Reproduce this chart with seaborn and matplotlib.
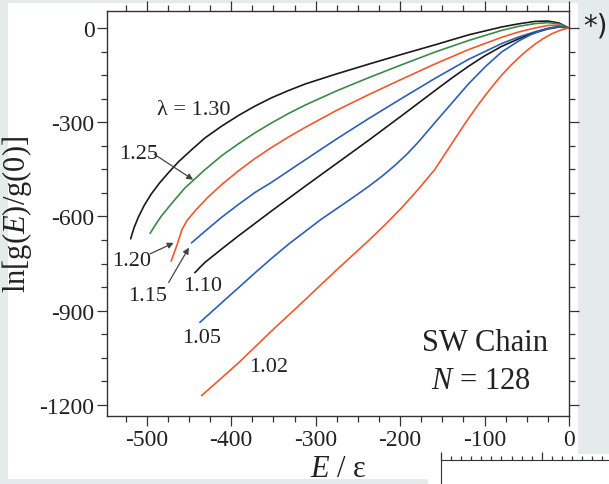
import numpy as np
import pandas as pd
import matplotlib
matplotlib.use("Agg")
import matplotlib.pyplot as plt
from matplotlib.patches import Rectangle
from matplotlib.ticker import MultipleLocator
import seaborn as sns

# ---- data ----
lam_labels = ["1.30", "1.25", "1.20", "1.15", "1.10", "1.05", "1.02"]

E_130 = [-519, -515, -510, -503, -495, -485, -474, -462, -447, -431, -411, -391, -372, -352, -332,
         -312, -275, -237, -198, -159, -119, -80, -60, -40, -25, -12, 0]
g_130 = [-671, -636, -603, -565, -530, -494, -460, -425, -388, -350, -312, -278, -249, -222, -199,
         -178, -146, -115, -84, -54, -22, 3, 13, 21, 22, 16, 0]

E_125 = [-496, -490, -483, -470, -455, -431, -411, -391, -372, -352, -332, -312, -275, -237, -198,
         -159, -119, -80, -60, -40, -25, -12, 0]
g_125 = [-654, -628, -600, -557, -510, -451, -406, -368, -334, -302, -272, -245, -200, -158, -117,
         -77, -40, -8, 5, 14, 17, 13, 0]

E_120 = [-471, -464, -458, -452, -442, -428, -411, -391, -372, -352, -332, -312, -275, -237, -198,
         -159, -119, -80, -60, -40, -25, -12, 0]
g_120 = [-742, -690, -640, -612, -580, -540, -498, -454, -416, -380, -347, -316, -262, -212, -163,
         -115, -69, -30, -13, 0, 8, 9, 0]

E_115 = [-447, -440, -431, -411, -391, -372, -352, -332, -312, -275, -237, -198, -159, -119, -80,
         -60, -40, -25, -12, 0]
g_115 = [-684, -668, -647, -602, -561, -524, -491, -455, -419, -353, -288, -224, -161, -100, -50,
         -29, -12, -1, 5, 0]

E_110 = [-443, -437, -431, -411, -391, -352, -312, -275, -237, -198, -159, -139, -119, -100, -80,
         -60, -40, -25, -12, 0]
g_110 = [-779, -762, -746, -703, -661, -582, -503, -431, -357, -279, -200, -160, -122, -89, -59,
         -35, -15, -3, 3, 0]

E_105 = [-437, -425, -411, -391, -372, -352, -332, -312, -294, -275, -256, -237, -220, -206, -192,
         -178, -159, -139, -119, -99, -80, -60, -45, -32, -20, -10, 0]
g_105 = [-937, -908, -874, -826, -780, -733, -688, -647, -610, -575, -540, -504, -469, -437, -402,
         -362, -302, -240, -178, -123, -77, -42, -21, -7, 1, 3, 0]

E_102 = [-435, -413, -391, -372, -352, -332, -312, -294, -275, -256, -237, -218, -198, -178, -159,
         -149, -139, -129, -119, -109, -99, -89, -80, -70, -60, -50, -40, -30, -20, -10, 0]
g_102 = [-1170, -1118, -1065, -1016, -964, -914, -864, -818, -770, -723, -676, -627, -572, -512, -451,
         -410, -369, -328, -288, -250, -214, -180, -151, -122, -96, -72, -51, -33, -18, -7, 0]

x_ticks = [-500, -400, -300, -200, -100, 0]
y_ticks = [-1200, -900, -600, -300, 0]

colors = ["#1a1a1a", "#3a8a48", "#ef5a2c", "#2d5fb4", "#1a1a1a", "#2d5fb4", "#ef5a2c"]

series = [(E_130, g_130), (E_125, g_125), (E_120, g_120), (E_115, g_115),
          (E_110, g_110), (E_105, g_105), (E_102, g_102)]
frames = []
for lab, (e, g) in zip(lam_labels, series):
    frames.append(pd.DataFrame({"E": e, "lng": g, "lam": lab}))
df = pd.concat(frames, ignore_index=True)

# ---- style ----
sns.set_style("ticks")
plt.rcParams["font.family"] = ["Liberation Serif", "DejaVu Serif"]
plt.rcParams["mathtext.fontset"] = "custom"
plt.rcParams["mathtext.rm"] = "Liberation Serif"
plt.rcParams["mathtext.it"] = "Liberation Serif:italic"
plt.rcParams["axes.unicode_minus"] = False

W, H = 609, 485
fig = plt.figure(figsize=(W / 100, H / 100), dpi=100, facecolor="#e4ebea")
fig.patches.append(Rectangle((8 / W, 1 - 480 / H), (578 - 8) / W, (480 - 4) / H,
                             transform=fig.transFigure, facecolor="white",
                             edgecolor="none", zorder=-10))
fig.patches.append(Rectangle((428 / W, 0), 1 - 428 / W, 30 / H,
                             transform=fig.transFigure, facecolor="white",
                             edgecolor="none", zorder=-10))

ax = fig.add_axes([107 / W, 1 - 417 / H, (569 - 107) / W, (417 - 12) / H])
ax.set_zorder(1)
sns.lineplot(data=df, x="E", y="lng", hue="lam", hue_order=lam_labels,
             palette=colors, sort=False, estimator=None, legend=False,
             linewidth=1.2, ax=ax)

ax.set_xlim(-547, 0)
ax.set_ylim(-1235, 54)
ax.set_xticks(x_ticks)
ax.set_yticks(y_ticks)
ax.set_xticklabels([str(v) for v in x_ticks])
ax.set_yticklabels([str(v) for v in y_ticks])
ax.xaxis.set_minor_locator(MultipleLocator(25))
ax.yaxis.set_minor_locator(MultipleLocator(75))
ax.tick_params(which="both", direction="out", top=True, right=True,
               color="#333333", width=0.9, labelsize=17, labelcolor="#222222")
ax.tick_params(which="major", length=7, pad=2)
ax.tick_params(which="minor", length=4)
for s in ax.spines.values():
    s.set_color("#333333")
    s.set_linewidth(1.0)

ax.set_xlabel(r"$E$ / ε", fontsize=22, color="#222222", labelpad=3)
ax.set_ylabel(r"ln[g($E$)/g(0)]", fontsize=22, color="#222222", labelpad=4)

# ---- annotations ----
tk = dict(fontsize=16, color="#222222", ha="center", va="center")
ax.text(-444, -258, "λ = 1.30", **tk)
ax.text(-434, -821, "1.10", **tk)
ax.text(-435, -985, "1.05", **tk)
ax.text(-356, -1077, "1.02", **tk)
arr = dict(arrowstyle="-|>", color="#444444", lw=0.9, mutation_scale=9, shrinkA=0, shrinkB=0)
ax.annotate("1.25", xy=(-445, -483), xytext=(-510, -398), **tk)
ax.annotate("", xy=(-445, -483), xytext=(-491, -402), arrowprops=arr)
ax.annotate("1.20", xy=(-468, -684), xytext=(-518, -739), **tk)
ax.annotate("", xy=(-468, -684), xytext=(-496, -719), arrowprops=arr)
ax.annotate("1.15", xy=(-450, -699), xytext=(-499, -853), **tk)
ax.annotate("", xy=(-450, -699), xytext=(-474, -810), arrowprops=arr)

ax.text(-99, -1001, "SW Chain", fontsize=22, color="#222222", ha="center", va="center")
ax.text(-104, -1123, r"$N$ = 128", fontsize=22, color="#222222", ha="center", va="center")

fig.text(595 / W, 1 - 27 / H, "*)", fontsize=20, family="DejaVu Sans",
         color="#222222", ha="center", va="center")

# fragment of the neighbouring panel below
ax2 = fig.add_axes([441 / W, 0, (609 - 441) / W, (485 - 461) / H])
ax2.set_facecolor("white")
ax2.set_xlim(0, 100)
ax2.set_ylim(0, 1)
for k in ["right", "bottom"]:
    ax2.spines[k].set_visible(False)
for k in ["top", "left"]:
    ax2.spines[k].set_color("#333333")
ax2.xaxis.set_ticks_position("top")
ax2.set_xticks([0, 60])
ax2.xaxis.set_minor_locator(MultipleLocator(6))
ax2.set_yticks([])
ax2.tick_params(axis="x", which="both", direction="out", labeltop=False,
                color="#333333", width=0.9)
ax2.tick_params(axis="x", which="major", length=6)
ax2.tick_params(axis="x", which="minor", length=3)

fig.savefig("out.png", dpi=100, facecolor=fig.get_facecolor())
